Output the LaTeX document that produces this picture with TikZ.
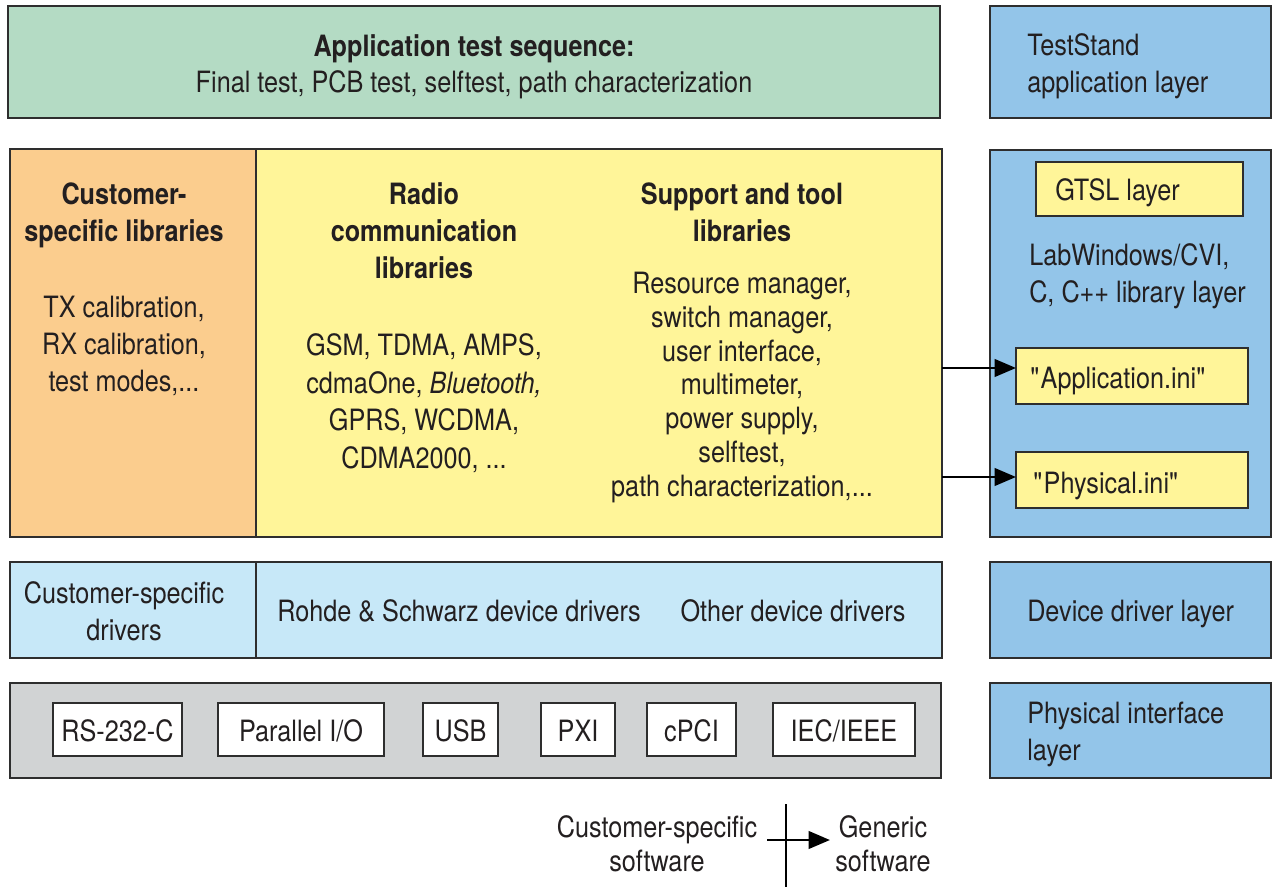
\documentclass[tikz,border=0pt]{standalone}
\usepackage{fontspec}
\setmainfont{TeX Gyre Heros}[FakeStretch=0.86]
\usetikzlibrary{arrows.meta}
\definecolor{cgreen}{HTML}{B4DBC4}
\definecolor{cblue}{HTML}{93C5E9}
\definecolor{corange}{HTML}{FBCD8E}
\definecolor{cyellow}{HTML}{FFF599}
\definecolor{clight}{HTML}{C7E8F8}
\definecolor{cgray}{HTML}{D1D3D4}
\definecolor{cline}{HTML}{2E2E2E}
\definecolor{ctext}{HTML}{231F20}
\newcommand\mybox[6]{\node[boxstyle,#6,anchor=north west,minimum width={(#4-#2)*0.75pt},minimum height={(#5-#3)*0.75pt}] (#1) at (#2,#3) {};}
\begin{document}
\begin{tikzpicture}[x=0.75pt,y=-0.75pt,
  boxstyle/.style={draw=cline,line width=1pt,inner sep=0pt,outer sep=0pt},
  txt/.style={text=ctext,inner sep=0pt,anchor=base,yshift=-1.5pt,font=\fontsize{22}{28.1}\selectfont},
  txtb/.style={txt,font=\fontsize{22}{28.1}\selectfont\bfseries},
  txtl/.style={txt,anchor=base west,align=left},
  arr/.style={draw=black,line width=2.2pt,-{Triangle[length=16pt,width=13pt]}}]
\useasboundingbox (0,0) rectangle (1273,887);

% boxes
\mybox{top}{8}{6}{940}{118}{fill=cgreen}
\mybox{ts}{990}{6}{1271}{118}{fill=cblue}
\mybox{cust}{10}{149}{256}{537}{fill=corange}
\mybox{yel}{256}{149}{942}{537}{fill=cyellow}
\mybox{cvi}{990}{150}{1271}{537}{fill=cblue}
\mybox{gtsl}{1036}{162}{1243}{216}{fill=cyellow}
\mybox{app}{1016}{348}{1248}{404}{fill=cyellow}
\mybox{phy}{1016}{452}{1248}{508}{fill=cyellow}
\mybox{cdrv}{10}{562}{256}{658}{fill=clight}
\mybox{rsdrv}{256}{562}{942}{658}{fill=clight}
\mybox{ddl}{990}{562}{1271}{658}{fill=cblue}
\mybox{gray}{10}{683}{941}{778}{fill=cgray}
\mybox{pil}{990}{683}{1271}{778}{fill=cblue}
\mybox{rs}{53}{703}{182}{756}{fill=white}
\mybox{par}{218}{703}{384}{756}{fill=white}
\mybox{usb}{423}{703}{498}{756}{fill=white}
\mybox{pxi}{541}{703}{615}{756}{fill=white}
\mybox{cpci}{647}{703}{736}{756}{fill=white}
\mybox{iec}{773}{703}{915}{756}{fill=white}

% texts (multi-line nodes: anchor = baseline of the last line)
\node[txtb] (t1) at (474,55) {Application test sequence:};
\node[txt] (t2) at (474,91) {Final test, PCB test, selftest, path characterization};
\node[txtl,font=\fontsize{22}{27.75}\selectfont] (t3) at (1027,91) {TestStand\\application layer};

\node[txtb,align=center] (t4) at (124,240) {Customer-\\specific libraries};
\node[txt,align=center] (t5) at (124,390) {TX calibration,\\RX calibration,\\test modes,...};

\node[txtb,align=center] (t6) at (424,277) {Radio\\communication\\libraries};
\node[txt,align=center] (t7) at (424,466) {GSM, TDMA, AMPS,\\cdmaOne, \textit{Bluetooth,}\\GPRS, WCDMA,\\CDMA2000, ...};

\node[txtb,align=center] (t8) at (742,240) {Support and tool\\libraries};
\node[txt,align=center,font=\fontsize{22}{25.3}\selectfont] (t9) at (742,494) {Resource manager,\\switch manager,\\user interface,\\multimeter,\\power supply,\\selftest,\\path characterization,...};

\node[txtl] (t10) at (1055,199) {GTSL layer};
\node[txtl,font=\fontsize{22}{27.75}\selectfont] (t11) at (1029,301) {LabWindows/CVI,\\C, C++ library layer};
\node[txtl] (t12) at (1030,386) {\textquotedbl Application.ini\textquotedbl};
\node[txtl] (t13) at (1033,491) {\textquotedbl Physical.ini\textquotedbl};

\node[txt,align=center,font=\fontsize{22}{27.75}\selectfont] (t14) at (124,638) {Customer-specific\\drivers};
\node[txt] (t15) at (459,619) {Rohde \& Schwarz device drivers};
\node[txt] (t16) at (793,619) {Other device drivers};
\node[txtl] (t17) at (1027,619) {Device driver layer};

\node[txt] at (rs.center |- 0,739) (l1) {RS-232-C};
\node[txt] at (par.center |- 0,739) (l2) {Parallel I/O};
\node[txt] at (usb.center |- 0,739) (l3) {USB};
\node[txt] at (pxi.center |- 0,739) (l4) {PXI};
\node[txt] at (cpci.center |- 0,739) (l5) {cPCI};
\node[txt] at (iec.center |- 0,739) (l6) {IEC/IEEE};
\node[txtl,font=\fontsize{22}{27.75}\selectfont] (t18) at (1027,758) {Physical interface\\layer};

% arrows to ini files
\draw[arr] (yel.east |- 0,368) -- (app.west |- 0,368);
\draw[arr] (yel.east |- 0,477) -- (phy.west |- 0,477);

% legend
\node[txt,align=center,font=\fontsize{22}{25.5}\selectfont] (cs) at (657,869) {Customer-specific\\software};
\node[txt,align=center,font=\fontsize{22}{25.5}\selectfont] (gen) at (883,869) {Generic\\software};
\coordinate (vt) at (786,804);
\coordinate (vb) at (786,887);
\coordinate (al) at (767,840);
\coordinate (ar) at (830,840);
\draw[line width=2.2pt] (vt) -- (vb);
\draw[arr] (al) -- (ar);
\end{tikzpicture}
\end{document}
